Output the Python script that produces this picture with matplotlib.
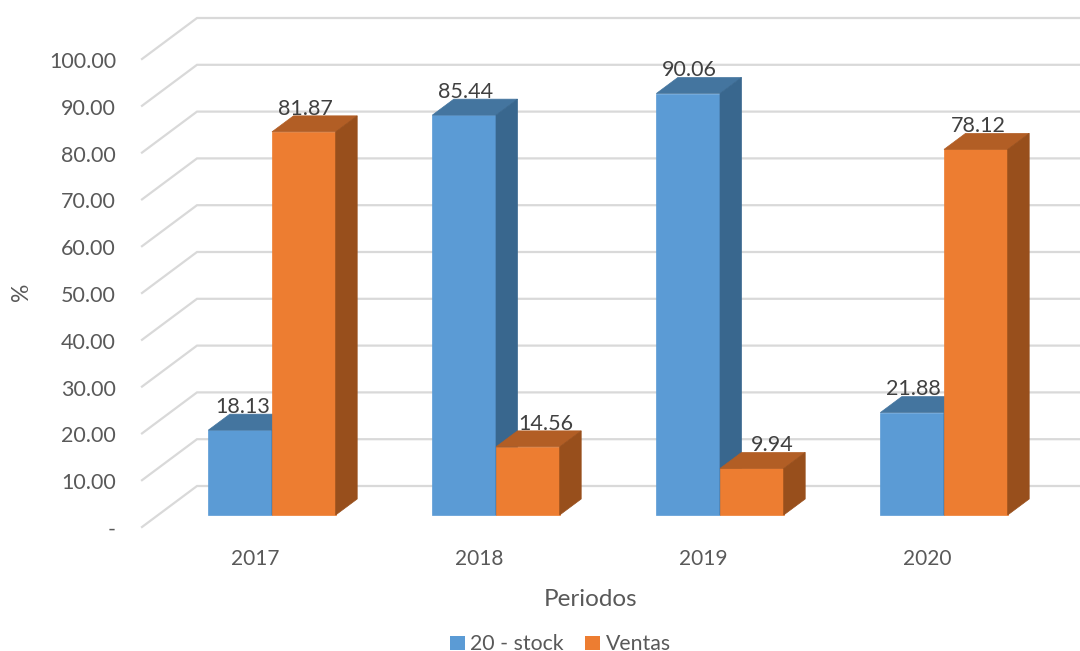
import matplotlib
matplotlib.use("Agg")
import matplotlib.pyplot as plt
from matplotlib.patches import Polygon, Patch

plt.rcParams['font.family'] = ['Lato', 'DejaVu Sans']

periods = ['2017', '2018', '2019', '2020']
stock = [18.13, 85.44, 90.06, 21.88]
ventas = [81.87, 14.56, 9.94, 78.12]
stock_labels = ['18.13', '85.44', '90.06', '21.88']
ventas_labels = ['81.87', '14.56', '9.94', '78.12']
y_ticks = [0, 10, 20, 30, 40, 50, 60, 70, 80, 90, 100]
y_tick_labels = ['-', '10.00', '20.00', '30.00', '40.00', '50.00', '60.00', '70.00', '80.00', '90.00', '100.00']
series_names = ['20 - stock', 'Ventas']

W, H = 1080, 651
PX_Y = 4.68           # pixels per percent unit
PX_X = 224.0          # pixels per category
BASE_PX = 515         # pixel row of value 0 at bar front
CENTER0_PX = 272      # pixel column of first category centre

fig = plt.figure(figsize=(W / 100, H / 100), dpi=100)
ax = fig.add_axes([0, 0, 1, 1])
ax.set_xlim(-CENTER0_PX / PX_X, (W - CENTER0_PX) / PX_X)
ax.set_ylim((BASE_PX - H) / PX_Y, BASE_PX / PX_Y)
ax.axis('off')

bw = 63.7 / PX_X
bar_dx, bar_dy = 21.5 / PX_X, 16 / PX_Y

# label shifts in pixels, relative to the bar centre
stock_shift = [3, 1, 1, 1]
ventas_shift = [2, 18, 20, 2]

# wall
wall_front_x = (142 - CENTER0_PX) / PX_X
wall_back_x = (197 - CENTER0_PX) / PX_X
front_off = (BASE_PX - 527) / PX_Y
back_off = (BASE_PX - 486) / PX_Y
label_off = (BASE_PX - 530) / PX_Y
grid_c = '#D9D9D9'
for v, lab in zip(y_ticks, y_tick_labels):
    ax.plot([wall_front_x, wall_back_x, ax.get_xlim()[1]],
            [v + front_off, v + back_off, v + back_off],
            color=grid_c, lw=1.6, solid_joinstyle='miter', zorder=1)
    ax.text((116 - CENTER0_PX) / PX_X, v + label_off, lab, ha='right', va='center',
            fontsize=15.5, color='#595959', zorder=5)


def draw_bar(x0, v, front, top, side, z):
    x1 = x0 + bw
    ax.add_patch(Polygon([(x0, 0), (x1, 0), (x1, v), (x0, v)], fc=front, ec=front, lw=0.5, zorder=z))
    ax.add_patch(Polygon([(x0, v), (x1, v), (x1 + bar_dx, v + bar_dy), (x0 + bar_dx, v + bar_dy)],
                         fc=top, ec=top, lw=0.5, zorder=z))
    ax.add_patch(Polygon([(x1, 0), (x1 + bar_dx, bar_dy), (x1 + bar_dx, v + bar_dy), (x1, v)],
                         fc=side, ec=side, lw=0.5, zorder=z))


for i in range(len(periods)):
    draw_bar(i - bw, stock[i], '#5B9BD5', '#44759F', '#39678E', 2 + i * 0.1)
    draw_bar(i, ventas[i], '#ED7D31', '#B25E25', '#984F1C', 2.05 + i * 0.1)
    ax.text(i - bw / 2 + stock_shift[i] / PX_X, stock[i] + 2.85, stock_labels[i], ha='center', va='bottom',
            fontsize=15.5, color='#404040', zorder=6, linespacing=1)
    ax.text(i + bw / 2 + ventas_shift[i] / PX_X, ventas[i] + 2.85, ventas_labels[i], ha='center', va='bottom',
            fontsize=15.5, color='#404040', zorder=6, linespacing=1)
    ax.text(i - 17 / PX_X, (BASE_PX - 559) / PX_Y, periods[i], ha='center', va='center',
            fontsize=15.0, color='#595959')

ax.text((591 - CENTER0_PX) / PX_X, (BASE_PX - 599.5) / PX_Y, 'Periodos', ha='center', va='center',
        fontsize=17.5, color='#595959')
ax.text((21 - CENTER0_PX) / PX_X, (BASE_PX - 292) / PX_Y, '%', ha='center', va='center',
        rotation=90, fontsize=16.5, color='#595959')

handles = [Patch(fc='#5B9BD5', ec='none'), Patch(fc='#ED7D31', ec='none')]
fig.legend(handles, series_names, ncols=2, loc='center', bbox_to_anchor=(560.5 / W, 1 - 644.5 / H),
           frameon=False, fontsize=15.3, labelcolor='#595959', handlelength=0.68, handleheight=0.68,
           handletextpad=0.28, columnspacing=1.0, borderpad=0)

fig.savefig('out.png', dpi=100)
